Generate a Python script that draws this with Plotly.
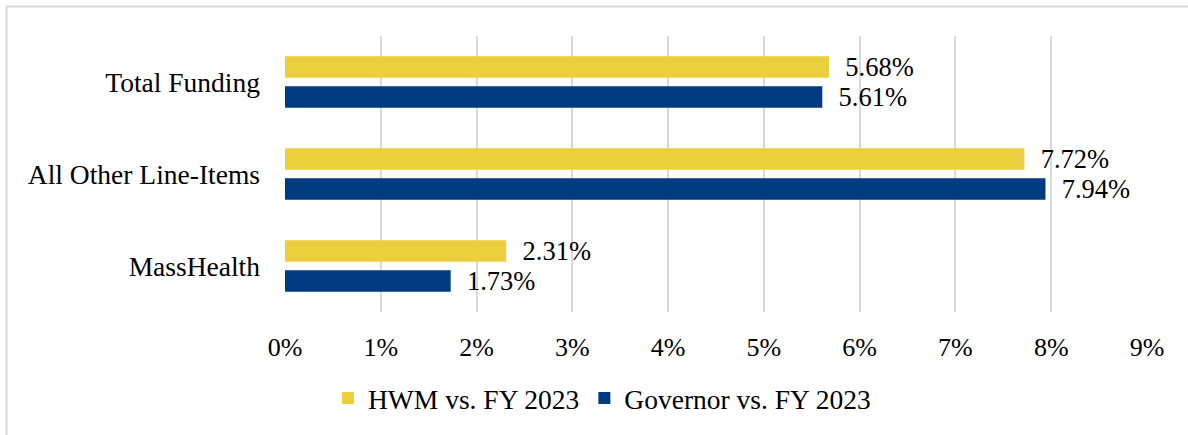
import plotly.graph_objects as go

categories = ["MassHealth", "All Other Line-Items", "Total Funding"]
hwm_values = [0.0231, 0.0772, 0.0568]
gov_values = [0.0173, 0.0794, 0.0561]
hwm_name = "HWM vs. FY 2023"
gov_name = "Governor vs. FY 2023"
x_ticks = [0, 0.01, 0.02, 0.03, 0.04, 0.05, 0.06, 0.07, 0.08, 0.09]

FONT = "Liberation Serif, Times New Roman, serif"
YELLOW = "#ECCF3D"
NAVY = "#003A80"

fig = go.Figure()
fig.add_trace(go.Bar(
    y=categories, x=gov_values, orientation="h", name=gov_name,
    marker=dict(color=NAVY, line=dict(width=0)),
    text=[f"\u00a0\u00a0{v*100:.2f}%" for v in gov_values],
    textposition="outside", cliponaxis=False, constraintext="none",
    textfont=dict(family=FONT, size=26.5, color="#000"),
    legendrank=2,
))
fig.add_trace(go.Bar(
    y=categories, x=hwm_values, orientation="h", name=hwm_name,
    marker=dict(color=YELLOW, line=dict(width=0)),
    text=[f"\u00a0\u00a0{v*100:.2f}%" for v in hwm_values],
    textposition="outside", cliponaxis=False, constraintext="none",
    textfont=dict(family=FONT, size=26.5, color="#000"),
    legendrank=1,
))

W, H = 1188, 435
ml, mr, mt, mb = 285, 41, 36, 123
pw, ph = W - ml - mr, H - mt - mb

def px_x(x):
    return (x - ml) / pw

def px_y(y):
    return (H - mb - y) / ph

fig.update_layout(
    width=W, height=H,
    margin=dict(l=ml, r=mr, t=mt, b=mb, autoexpand=False),
    paper_bgcolor="white", plot_bgcolor="white",
    barmode="group", bargap=0.35, bargroupgap=0.28,
    font=dict(family=FONT, size=27, color="#000"),
    showlegend=True,
    legend=dict(
        orientation="h", x=px_x(602), xanchor="center",
        y=px_y(398), yanchor="middle",
        font=dict(family=FONT, size=27.5, color="#000"),
        traceorder="normal",
    ),
    xaxis=dict(
        range=[0, 0.09], tickvals=x_ticks, tickformat=".0%",
        showgrid=True, gridcolor="#d9d9d9", gridwidth=1.5,
        zeroline=False, showline=False,
        ticks="", ticklabelstandoff=17, tickangle=0,
        tickfont=dict(family=FONT, size=26, color="#000"),
        fixedrange=True, automargin=False,
    ),
    yaxis=dict(
        categoryorder="array", categoryarray=categories,
        showgrid=False, zeroline=False, showline=False,
        ticks="", ticklabelstandoff=24,
        tickfont=dict(family=FONT, size=27.5, color="#000"),
        fixedrange=True, automargin=False,
    ),
    shapes=[
        dict(type="line", xref="paper", yref="paper",
             x0=px_x(6.5), x1=px_x(W + 5), y0=px_y(6.5), y1=px_y(6.5),
             line=dict(color="#d9d9d9", width=2)),
        dict(type="line", xref="paper", yref="paper",
             x0=px_x(6.5), x1=px_x(6.5), y0=px_y(6.5), y1=px_y(H + 5),
             line=dict(color="#d9d9d9", width=2)),
    ],
)

fig.write_html("out.html", config={"displayModeBar": False},
               post_script="document.body.style.margin='0';")
